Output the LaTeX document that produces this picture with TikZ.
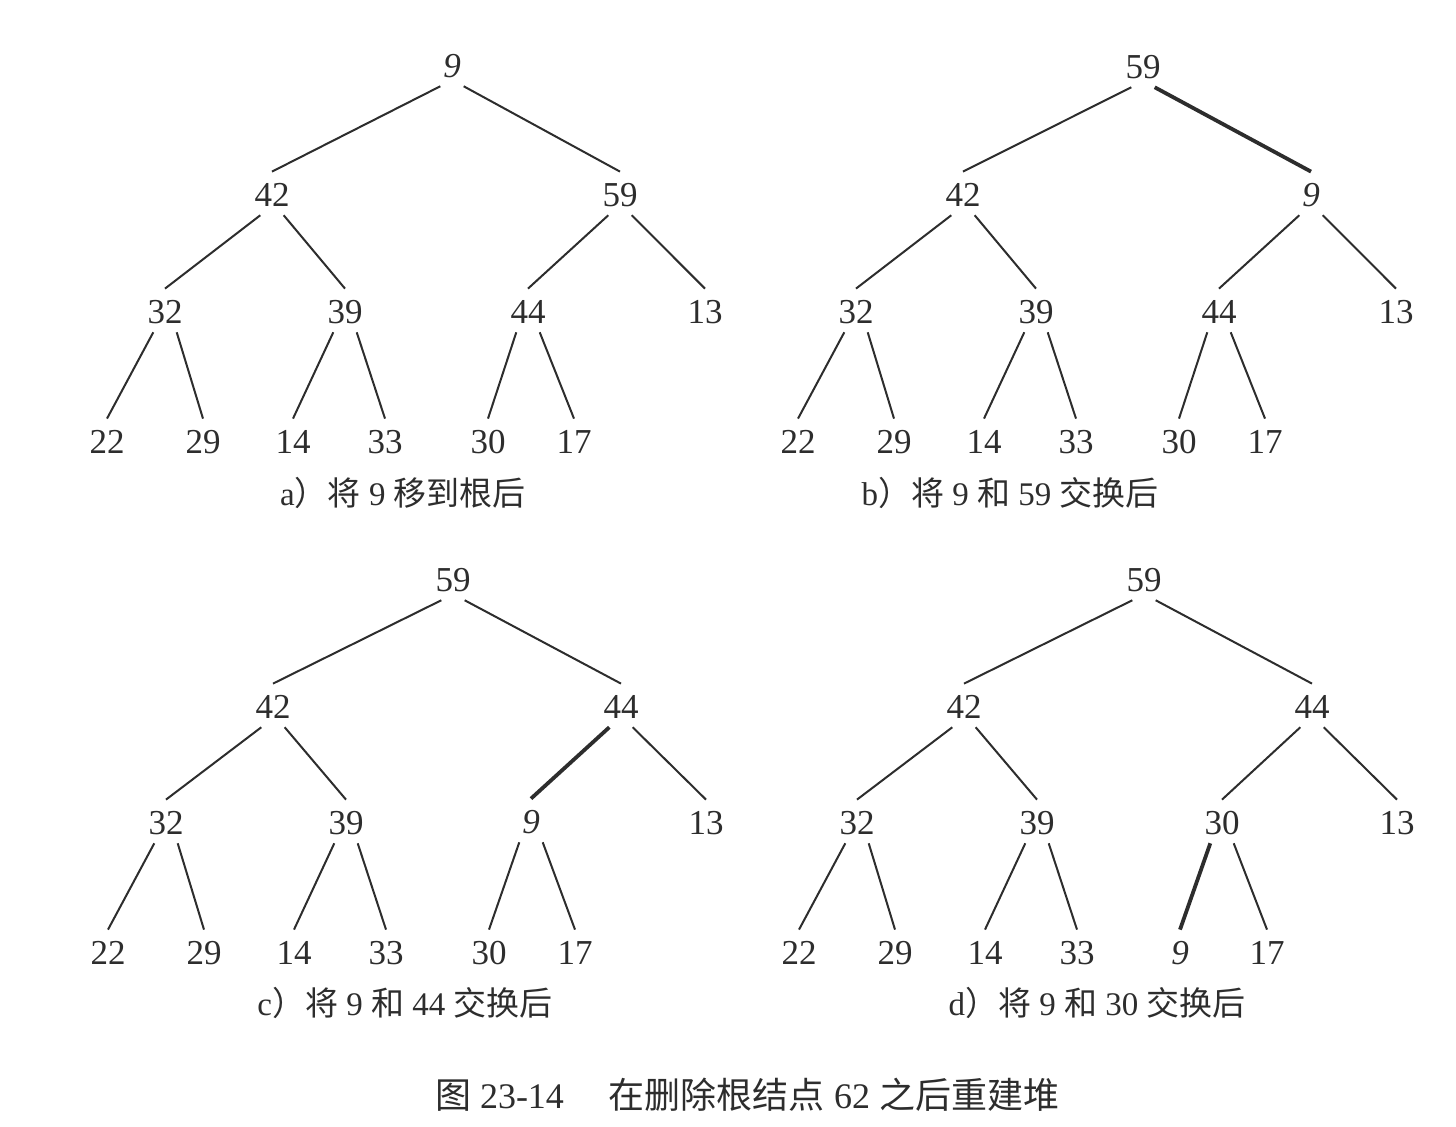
\documentclass[tikz,border=0pt]{standalone}
\usepackage{fontspec}
\setmainfont{Liberation Serif}
\newfontfamily\cjk{Noto Sans CJK SC}
\definecolor{ink}{RGB}{45,45,45}
\tikzset{
  key/.style={circle, inner sep=0pt, minimum size=23pt, text=ink,
    font=\fontsize{17.5}{20}\selectfont},
  caption/.style={text=ink, font=\fontsize{16.5}{20}\selectfont},
  swapped/.style={line width=1.9pt}
}
\begin{document}
\begin{tikzpicture}[x=0.5pt,y=-0.5pt]
      \useasboundingbox (0,0) rectangle (1456,1126);

      % a) 9 moved to the root
      \begin{scope}[every node/.style={key}]
        \node (a9)  at (452,66)  {\textit{9}};
        \node (a42) at (272,195) {42};
        \node (a59) at (620,195) {59};
        \node (a32) at (165,312) {32};
        \node (a39) at (345,312) {39};
        \node (a44) at (528,312) {44};
        \node (a13) at (705,312) {13};
        \node (a22) at (107,442) {22};
        \node (a29) at (203,442) {29};
        \node (a14) at (293,442) {14};
        \node (a33) at (385,442) {33};
        \node (a30) at (488,442) {30};
        \node (a17) at (574,442) {17};
      \end{scope}

      % b) 9 and 59 swapped
      \begin{scope}[every node/.style={key}]
        \node (b59) at (1143,67)  {59};
        \node (b42) at (963,195)  {42};
        \node (b9)  at (1311,195) {\textit{9}};
        \node (b32) at (856,312)  {32};
        \node (b39) at (1036,312) {39};
        \node (b44) at (1219,312) {44};
        \node (b13) at (1396,312) {13};
        \node (b22) at (798,442)  {22};
        \node (b29) at (894,442)  {29};
        \node (b14) at (984,442)  {14};
        \node (b33) at (1076,442) {33};
        \node (b30) at (1179,442) {30};
        \node (b17) at (1265,442) {17};
      \end{scope}

      % c) 9 and 44 swapped
      \begin{scope}[every node/.style={key}]
        \node (c59) at (453,580) {59};
        \node (c42) at (273,707) {42};
        \node (c44) at (621,707) {44};
        \node (c32) at (166,823) {32};
        \node (c39) at (346,823) {39};
        \node (c9)  at (531,822) {\textit{9}};
        \node (c13) at (706,823) {13};
        \node (c22) at (108,953) {22};
        \node (c29) at (204,953) {29};
        \node (c14) at (294,953) {14};
        \node (c33) at (386,953) {33};
        \node (c30) at (489,953) {30};
        \node (c17) at (575,953) {17};
      \end{scope}

      % d) 9 and 30 swapped
      \begin{scope}[every node/.style={key}]
        \node (d59) at (1144,580) {59};
        \node (d42) at (964,707)  {42};
        \node (d44) at (1312,707) {44};
        \node (d32) at (857,823)  {32};
        \node (d39) at (1037,823) {39};
        \node (d30) at (1222,823) {30};
        \node (d13) at (1397,823) {13};
        \node (d22) at (799,953)  {22};
        \node (d29) at (895,953)  {29};
        \node (d14) at (985,953)  {14};
        \node (d33) at (1077,953) {33};
        \node (d9)  at (1180,953) {\textit{9}};
        \node (d17) at (1267,953) {17};
      \end{scope}

      \begin{scope}[every edge/.style={draw=ink, line width=1pt}]
        \path (a9.240)  edge (a42.north);
        \path (a9.300)  edge (a59.north);
        \path (a42.240) edge (a32.north);
        \path (a42.300) edge (a39.north);
        \path (a59.240) edge (a44.north);
        \path (a59.300) edge (a13.north);
        \path (a32.240) edge (a22.north);
        \path (a32.300) edge (a29.north);
        \path (a39.240) edge (a14.north);
        \path (a39.300) edge (a33.north);
        \path (a44.240) edge (a30.north);
        \path (a44.300) edge (a17.north);

        \path (b59.240) edge (b42.north);
        \path (b59.300) edge[swapped] (b9.north);
        \path (b42.240) edge (b32.north);
        \path (b42.300) edge (b39.north);
        \path (b9.240)  edge (b44.north);
        \path (b9.300)  edge (b13.north);
        \path (b32.240) edge (b22.north);
        \path (b32.300) edge (b29.north);
        \path (b39.240) edge (b14.north);
        \path (b39.300) edge (b33.north);
        \path (b44.240) edge (b30.north);
        \path (b44.300) edge (b17.north);

        \path (c59.240) edge (c42.north);
        \path (c59.300) edge (c44.north);
        \path (c42.240) edge (c32.north);
        \path (c42.300) edge (c39.north);
        \path (c44.240) edge[swapped] (c9.north);
        \path (c44.300) edge (c13.north);
        \path (c32.240) edge (c22.north);
        \path (c32.300) edge (c29.north);
        \path (c39.240) edge (c14.north);
        \path (c39.300) edge (c33.north);
        \path (c9.240)  edge (c30.north);
        \path (c9.300)  edge (c17.north);

        \path (d59.240) edge (d42.north);
        \path (d59.300) edge (d44.north);
        \path (d42.240) edge (d32.north);
        \path (d42.300) edge (d39.north);
        \path (d44.240) edge (d30.north);
        \path (d44.300) edge (d13.north);
        \path (d32.240) edge (d22.north);
        \path (d32.300) edge (d29.north);
        \path (d39.240) edge (d14.north);
        \path (d39.300) edge (d33.north);
        \path (d30.240) edge[swapped] (d9.north);
        \path (d30.300) edge (d17.north);
      \end{scope}

      % captions
      \begin{scope}[every node/.style={caption}]
        \node (capa) at (403,493)  {a{\cjk ）将} 9 {\cjk 移到根后}};
        \node (capb) at (1010,493) {b{\cjk ）将} 9 {\cjk 和} 59 {\cjk 交换后}};
        \node (capc) at (405,1003) {c{\cjk ）将} 9 {\cjk 和} 44 {\cjk 交换后}};
        \node (capd) at (1097,1003) {d{\cjk ）将} 9 {\cjk 和} 30 {\cjk 交换后}};
        \node[font=\fontsize{18}{21}\selectfont] (fig) at (747,1095)
          {{\cjk 图} 23-14\hspace{1.25em}{\cjk 在删除根结点} 62 {\cjk 之后重建堆}};
      \end{scope}

    \end{tikzpicture}
\end{document}
